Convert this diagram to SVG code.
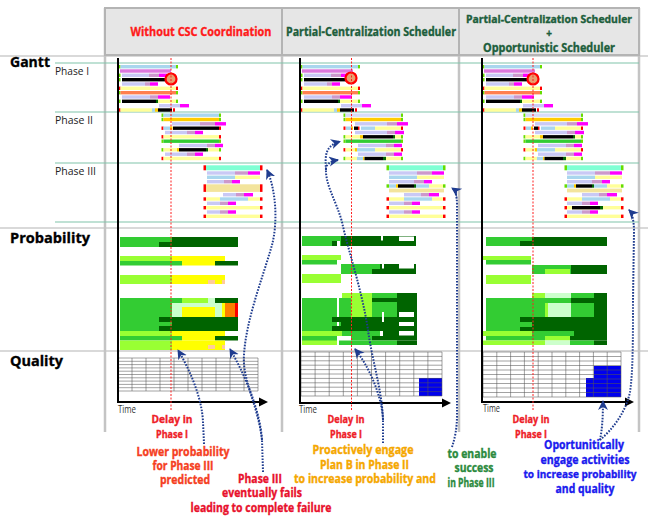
<svg xmlns="http://www.w3.org/2000/svg" width="648" height="519" viewBox="0 0 648 519">
<style>
.lb{fill:#a9d6ee}.lv{fill:#c9c9f5}.lv2{fill:#d8dcf8}.pl{fill:#cc99cc}.mg{fill:#ff00ff}.or{fill:#dd77dd}.ly{fill:#ffff99}.co{fill:#ff7f50}.gd{fill:#ffcc00}.bk{fill:#000}.dg{fill:#006600}.gn{fill:#33cc33}.gc{fill:#66dd00}.rc{fill:#ff0000}.aq{fill:#80ffd4}.kh{fill:#f3e49c}
.g{fill:#33cc33}.d{fill:#006400}.l{fill:#99ff33}.y{fill:#ffff00}.p{fill:#ccffcc}.pc{fill:#ffcc99}.o{fill:#ff8000}.r{fill:#ff0000}.w{fill:#fff}
.t{font-family:"Open Sans","Liberation Sans",sans-serif;font-weight:bold;stroke-width:0.35;paint-order:stroke}
.n{font-family:"Open Sans","Liberation Sans",sans-serif}
.cell{fill:#e6e6e6;stroke:#b4b4b4;stroke-width:2}
.col{stroke:#c4c4c4;stroke-width:2.5}
.sep{stroke:#cccccc;stroke-width:1.5}
.ph{stroke:#80c4aa;stroke-width:1.2}
.axis{stroke:#000;stroke-width:2;fill:none}
.delay{stroke:#ff2020;stroke-width:1;stroke-dasharray:2 1.5}
.grid{stroke:#555;stroke-width:0.55;fill:none}
.arr{stroke:#1f3c8f;stroke-width:2;stroke-dasharray:1.6 1.4;fill:none;marker-end:url(#ah)}
.ring{fill:#e8a070;stroke:#ff0000;stroke-width:2.2}
.blue{fill:#0000ee}
</style>
<defs>
<marker id="ah" markerWidth="12" markerHeight="12" refX="9" refY="5" orient="auto" markerUnits="userSpaceOnUse"><path d="M0,0 L10,5 L0,10 L3,5 Z" fill="#1f3c8f"/></marker>
<marker id="ta" markerWidth="10" markerHeight="10" refX="0" refY="5" orient="auto" markerUnits="userSpaceOnUse"><path d="M0,0.5 L9,5 L0,9.5 Z" fill="#000"/></marker>
<g id="p1">
<rect class="gc" x="-0.5" y="1" width="2" height="3.4"/><rect class="lb" x="1.5" y="1" width="55.5" height="3.4"/><rect class="gc" x="57" y="1" width="2" height="3.4"/>
<rect class="or" x="1" y="5.3" width="51" height="3.4"/>
<rect class="gc" x="-0.5" y="9.6" width="2" height="3.4"/><rect class="lv" x="3" y="9.6" width="27" height="3.4"/><rect class="pl" x="30" y="9.6" width="10" height="3.4"/><rect class="mg" x="40" y="9.6" width="8" height="3.4"/>
<rect class="gc" x="-0.5" y="14" width="2" height="3.4"/><rect class="bk" x="3" y="14" width="44" height="3.4"/><rect class="dg" x="47" y="14" width="2" height="3.4"/>
<rect class="lv" x="3" y="18.3" width="23" height="3.4"/><rect class="pl" x="26" y="18.3" width="5" height="3.4"/><rect class="mg" x="31" y="18.3" width="8" height="3.4"/>
<rect class="rc" x="-0.5" y="22.6" width="2" height="3.4"/><rect class="ly" x="1.5" y="22.6" width="55.5" height="3.4"/><rect class="rc" x="57" y="22.6" width="2" height="3.4"/>
<rect class="gc" x="-0.5" y="27" width="2" height="3.4"/><rect class="co" x="1.5" y="27" width="55.5" height="3.4"/><rect class="gc" x="57" y="27" width="2" height="3.4"/>
<rect class="lv" x="3" y="31.3" width="28" height="3.4"/><rect class="pl" x="31" y="31.3" width="8" height="3.4"/><rect class="mg" x="39" y="31.3" width="12" height="3.4"/>
<rect class="gc" x="-0.5" y="35.6" width="2" height="3.4"/><rect class="bk" x="3" y="35.6" width="34" height="3.4"/><rect class="dg" x="37" y="35.6" width="2" height="3.4"/><rect class="ly" x="39" y="35.6" width="18" height="3.4"/><rect class="gc" x="57" y="35.6" width="2" height="3.4"/>
<rect class="lv" x="40" y="40" width="21" height="3.4"/><rect class="mg" x="61" y="40" width="9" height="3.4"/>
<rect class="rc" x="-0.5" y="44.3" width="2" height="3.4"/><rect class="ly" x="1.5" y="44.3" width="31.5" height="3.4"/><rect class="lb" x="33" y="44.3" width="3" height="3.4"/><rect class="gd" x="36" y="44.3" width="3" height="3.4"/><rect class="bk" x="39" y="44.3" width="14" height="3.4"/><rect class="rc" x="54" y="44.3" width="2" height="3.4"/>
</g>
<g id="p2a">
<rect class="gc" x="-0.5" y="0.5" width="2" height="3.4"/><rect class="lb" x="1.5" y="0.5" width="55.5" height="3.4"/><rect class="gc" x="57" y="0.5" width="2" height="3.4"/>
<rect class="gc" x="-0.5" y="4.8" width="2" height="3.4"/><rect class="gd" x="1.5" y="4.8" width="55.5" height="3.4"/><rect class="gc" x="57" y="4.8" width="2" height="3.4"/>
<rect class="lv" x="10" y="9.1" width="28" height="3.4"/><rect class="pl" x="38" y="9.1" width="15" height="3.4"/><rect class="mg" x="53" y="9.1" width="11" height="3.4"/>
<rect class="rc" x="-0.5" y="13.5" width="2" height="3.4"/><rect class="lb" x="1.5" y="13.5" width="6.5" height="3.4"/><rect class="gd" x="8" y="13.5" width="2.5" height="3.4"/><rect class="bk" x="11" y="13.5" width="46" height="3.4"/><rect class="rc" x="57" y="13.5" width="2" height="3.4"/>
<rect class="lv" x="3" y="17.8" width="22" height="3.4"/><rect class="pl" x="25" y="17.8" width="8" height="3.4"/><rect class="mg" x="33" y="17.8" width="8" height="3.4"/>
<rect class="rc" x="-0.5" y="22.1" width="2" height="3.4"/><rect class="ly" x="1.5" y="22.1" width="55.5" height="3.4"/><rect class="rc" x="57" y="22.1" width="2" height="3.4"/>
<rect class="gc" x="-0.5" y="26.5" width="2" height="3.4"/><rect class="gn" x="1.5" y="26.5" width="55.5" height="3.4"/><rect class="gc" x="57" y="26.5" width="2" height="3.4"/>
<rect class="lv" x="17" y="30.8" width="28" height="3.4"/><rect class="pl" x="45" y="30.8" width="8" height="3.4"/><rect class="mg" x="53" y="30.8" width="8" height="3.4"/>
<rect class="gc" x="-0.5" y="35.1" width="2" height="3.4"/><rect class="ly" x="1.5" y="35.1" width="13.5" height="3.4"/><rect class="gd" x="15" y="35.1" width="2" height="3.4"/><rect class="bk" x="17" y="35.1" width="27" height="3.4"/><rect class="dg" x="44" y="35.1" width="2" height="3.4"/><rect class="ly" x="46" y="35.1" width="11" height="3.4"/><rect class="gc" x="57" y="35.1" width="2" height="3.4"/>
<rect class="lv" x="3" y="39.5" width="22" height="3.4"/><rect class="pl" x="25" y="39.5" width="8" height="3.4"/><rect class="mg" x="33" y="39.5" width="8" height="3.4"/>
<rect class="rc" x="-0.5" y="43.8" width="2" height="3.4"/><rect class="ly" x="1.5" y="43.8" width="55.5" height="3.4"/><rect class="rc" x="57" y="43.8" width="2" height="3.4"/>
</g>
<g id="p3a">
<rect class="rc" x="-0.5" y="2.3" width="2.5" height="5"/><rect class="aq" x="2" y="2.3" width="54" height="5"/><rect class="rc" x="56" y="2.3" width="2.5" height="5"/>
<rect class="lv" x="3" y="8.3" width="28" height="3.4"/><rect class="pl" x="31" y="8.3" width="13" height="3.4"/><rect class="mg" x="44" y="8.3" width="12" height="3.4"/>
<rect class="lb" x="3" y="12.6" width="28" height="3.4"/><rect class="ly" x="31" y="12.6" width="25" height="3.4"/>
<rect class="lv" x="3" y="17" width="17" height="3.4"/><rect class="pl" x="20" y="17" width="8" height="3.4"/><rect class="mg" x="28" y="17" width="8" height="3.4"/>
<rect class="rc" x="-0.5" y="21.3" width="2.5" height="7.6"/><rect class="kh" x="2" y="21.3" width="54" height="7.6"/><rect class="rc" x="56" y="21.3" width="2.5" height="7.6"/>
<rect class="lv" x="19" y="30" width="13" height="3.4"/><rect class="pl" x="32" y="30" width="8" height="3.4"/><rect class="mg" x="40" y="30" width="9" height="3.4"/>
<rect class="rc" x="-0.5" y="34.3" width="2.5" height="3.4"/><rect class="ly" x="2" y="34.3" width="14" height="3.4"/><rect class="lb" x="16" y="34.3" width="28" height="3.4"/><rect class="ly" x="44" y="34.3" width="12" height="3.4"/><rect class="rc" x="56" y="34.3" width="2.5" height="3.4"/>
<rect class="lv" x="3" y="38.6" width="13" height="3.4"/><rect class="pl" x="16" y="38.6" width="8" height="3.4"/><rect class="mg" x="24" y="38.6" width="8" height="3.4"/>
<rect class="rc" x="-0.5" y="43" width="2.5" height="3.4"/><rect class="ly" x="2" y="43" width="54" height="3.4"/><rect class="rc" x="56" y="43" width="2.5" height="3.4"/>
<rect class="lv" x="3" y="47.3" width="13" height="3.4"/><rect class="pl" x="16" y="47.3" width="8" height="3.4"/><rect class="mg" x="24" y="47.3" width="8" height="3.4"/>
<rect class="rc" x="-0.5" y="51.6" width="2.5" height="3.4"/><rect class="ly" x="2" y="51.6" width="54" height="3.4"/><rect class="rc" x="56" y="51.6" width="2.5" height="3.4"/>
</g>
<g id="p2b">
<rect class="gc" x="-0.5" y="0.5" width="2" height="3.4"/><rect class="lv2" x="1.5" y="0.5" width="55.5" height="3.4"/><rect class="gc" x="57" y="0.5" width="2" height="3.4"/>
<rect class="gc" x="-0.5" y="4.8" width="2" height="3.4"/><rect class="gd" x="1.5" y="4.8" width="55.5" height="3.4"/><rect class="gc" x="57" y="4.8" width="2" height="3.4"/>
<rect class="lv" x="11" y="9.1" width="32" height="3.4"/><rect class="pl" x="43" y="9.1" width="10" height="3.4"/><rect class="mg" x="53" y="9.1" width="11" height="3.4"/>
<rect class="rc" x="-0.5" y="13.5" width="2" height="3.4"/><rect class="lb" x="2" y="13.5" width="5" height="3.4"/><rect class="gd" x="7" y="13.5" width="2" height="3.4"/><rect class="bk" x="10" y="13.5" width="4" height="3.4"/><rect class="rc" x="14" y="13.5" width="1.5" height="3.4"/><rect class="lb" x="17" y="13.5" width="14" height="3.4"/><rect class="ly" x="31" y="13.5" width="26" height="3.4"/><rect class="rc" x="57" y="13.5" width="2" height="3.4"/>
<rect class="lv" x="11" y="17.8" width="32" height="3.4"/><rect class="pl" x="43" y="17.8" width="8" height="3.4"/><rect class="mg" x="51" y="17.8" width="9" height="3.4"/>
<rect class="gc" x="-0.5" y="22.1" width="2" height="3.4"/><rect class="ly" x="1.5" y="22.1" width="14.5" height="3.4"/><rect class="gd" x="16" y="22.1" width="3" height="3.4"/><rect class="bk" x="19" y="22.1" width="30" height="3.4"/><rect class="dg" x="49" y="22.1" width="2" height="3.4"/><rect class="ly" x="51" y="22.1" width="6" height="3.4"/><rect class="gc" x="57" y="22.1" width="2" height="3.4"/>
<rect class="gc" x="-0.5" y="26.5" width="2" height="3.4"/><rect class="gn" x="1.5" y="26.5" width="55.5" height="3.4"/><rect class="gc" x="57" y="26.5" width="2" height="3.4"/>
<rect class="lv" x="14" y="30.8" width="28" height="3.4"/><rect class="pl" x="42" y="30.8" width="8" height="3.4"/><rect class="mg" x="50" y="30.8" width="8" height="3.4"/>
<rect class="rc" x="-0.5" y="35.1" width="2" height="3.4"/><rect class="ly" x="1.5" y="35.1" width="9.5" height="3.4"/><rect class="gd" x="11" y="35.1" width="2" height="3.4"/><rect class="lb" x="13" y="35.1" width="18" height="3.4"/><rect class="ly" x="31" y="35.1" width="26" height="3.4"/><rect class="rc" x="57" y="35.1" width="2" height="3.4"/>
<rect class="lv" x="14" y="39.5" width="28" height="3.4"/><rect class="pl" x="42" y="39.5" width="8" height="3.4"/><rect class="mg" x="50" y="39.5" width="8" height="3.4"/>
<rect class="gc" x="-0.5" y="43.8" width="2" height="3.4"/><rect class="ly" x="1.5" y="43.8" width="11.5" height="3.4"/><rect class="lb" x="13" y="43.8" width="6" height="3.4"/><rect class="gd" x="19" y="43.8" width="1.5" height="3.4"/><rect class="bk" x="20.5" y="43.8" width="18.5" height="3.4"/><rect class="dg" x="39" y="43.8" width="3" height="3.4"/><rect class="ly" x="42" y="43.8" width="15" height="3.4"/><rect class="gc" x="57" y="43.8" width="2" height="3.4"/>
</g>
<g id="p3b">
<rect class="gc" x="-0.5" y="2.3" width="2.5" height="5"/><rect class="aq" x="2" y="2.3" width="54" height="5"/><rect class="gc" x="56" y="2.3" width="2.5" height="5"/>
<rect class="lv" x="2" y="8.3" width="28" height="3.4"/><rect class="pl" x="30" y="8.3" width="15" height="3.4"/><rect class="mg" x="45" y="8.3" width="12" height="3.4"/>
<rect class="lb" x="2" y="12.6" width="28" height="3.4"/><rect class="ly" x="30" y="12.6" width="27" height="3.4"/>
<rect class="lv" x="2" y="17" width="25" height="3.4"/><rect class="pl" x="27" y="17" width="10" height="3.4"/><rect class="mg" x="37" y="17" width="8" height="3.4"/>
<rect class="gc" x="-0.5" y="21.3" width="2.5" height="3.4"/><rect class="lb" x="2" y="21.3" width="7" height="3.4"/><rect class="gd" x="9" y="21.3" width="2" height="3.4"/><rect class="bk" x="11" y="21.3" width="16" height="3.4"/><rect class="dg" x="27" y="21.3" width="2" height="3.4"/><rect class="lb" x="29" y="21.3" width="13" height="3.4"/><rect class="ly" x="42" y="21.3" width="14" height="3.4"/><rect class="gc" x="56" y="21.3" width="2.5" height="3.4"/>
<rect class="kh" x="2" y="25.6" width="55" height="3.8"/>
<rect class="lv" x="17" y="30" width="17" height="3.4"/><rect class="pl" x="34" y="30" width="8" height="3.4"/><rect class="mg" x="42" y="30" width="10" height="3.4"/>
<rect class="rc" x="-0.5" y="34.3" width="2.5" height="3.4"/><rect class="ly" x="2" y="34.3" width="15" height="3.4"/><rect class="lb" x="17" y="34.3" width="28" height="3.4"/><rect class="ly" x="45" y="34.3" width="11" height="3.4"/><rect class="rc" x="56" y="34.3" width="2.5" height="3.4"/>
<rect class="lv" x="2" y="38.6" width="15" height="3.4"/><rect class="pl" x="17" y="38.6" width="8" height="3.4"/><rect class="mg" x="25" y="38.6" width="8" height="3.4"/>
<rect class="rc" x="-0.5" y="43" width="2.5" height="3.4"/><rect class="ly" x="2" y="43" width="54" height="3.4"/><rect class="rc" x="56" y="43" width="2.5" height="3.4"/>
<rect class="lv" x="2" y="47.3" width="15" height="3.4"/><rect class="pl" x="17" y="47.3" width="8" height="3.4"/><rect class="mg" x="25" y="47.3" width="8" height="3.4"/>
<rect class="rc" x="-0.5" y="51.6" width="2.5" height="3.4"/><rect class="ly" x="2" y="51.6" width="54" height="3.4"/><rect class="rc" x="56" y="51.6" width="2.5" height="3.4"/>
</g>
</defs>
<rect width="648" height="519" fill="#fff"/>

<g id="frame">
<line class="sep" x1="0" y1="56" x2="648" y2="56"/>
<line class="sep" x1="0" y1="228" x2="648" y2="228"/>
<line class="sep" x1="0" y1="351" x2="648" y2="351"/>
<line class="col" x1="105" y1="8" x2="105" y2="432"/>
<line class="col" x1="282" y1="8" x2="282" y2="432"/>
<line class="col" x1="459" y1="8" x2="459" y2="432"/>
<line class="col" x1="639" y1="8" x2="639" y2="432"/>
<line class="ph" x1="55" y1="63" x2="639" y2="63"/>
<line class="ph" x1="55" y1="112" x2="639" y2="112"/>
<line class="ph" x1="55" y1="163" x2="639" y2="163"/>
<line class="ph" x1="55" y1="222" x2="639" y2="222"/>
</g>

<g id="header">
<rect class="cell" x="105" y="8" width="177" height="47"/>
<rect class="cell" x="282" y="8" width="177" height="47"/>
<rect class="cell" x="459" y="8" width="180" height="47"/>
<text class="t" x="201" y="35.5" font-size="12.5" fill="#ff1a1a" stroke="#ff1a1a" text-anchor="middle" textLength="141" lengthAdjust="spacingAndGlyphs">Without CSC Coordination</text>
<text class="t" x="371" y="35.5" font-size="12.5" fill="#1d5e3c" stroke="#1d5e3c" text-anchor="middle" textLength="170" lengthAdjust="spacingAndGlyphs">Partial-Centralization Scheduler</text>
<text class="t" x="549" y="22.5" font-size="10.2" fill="#1d5e3c" stroke="#1d5e3c" text-anchor="middle" textLength="166" lengthAdjust="spacingAndGlyphs">Partial-Centralization Scheduler</text>
<text class="t" x="549" y="37" font-size="10" fill="#1d5e3c" stroke="#1d5e3c" text-anchor="middle">+</text>
<text class="t" x="549" y="51.5" font-size="11.5" fill="#1d5e3c" stroke="#1d5e3c" text-anchor="middle" textLength="132" lengthAdjust="spacingAndGlyphs">Opportunistic Scheduler</text>
</g>

<g id="row-labels">
<text class="t" x="10" y="67" font-size="15" fill="#000" stroke="#000" textLength="40" lengthAdjust="spacingAndGlyphs">Gantt</text>
<text class="t" x="10" y="243" font-size="15" fill="#000" stroke="#000" textLength="80" lengthAdjust="spacingAndGlyphs">Probability</text>
<text class="t" x="10" y="366" font-size="15" fill="#000" stroke="#000" textLength="53" lengthAdjust="spacingAndGlyphs">Quality</text>
<text class="n" x="55" y="75" font-size="11" fill="#222" textLength="34" lengthAdjust="spacingAndGlyphs">Phase I</text>
<text class="n" x="55" y="124" font-size="11" fill="#222" textLength="38" lengthAdjust="spacingAndGlyphs">Phase II</text>
<text class="n" x="55" y="175" font-size="11" fill="#222" textLength="41" lengthAdjust="spacingAndGlyphs">Phase III</text>
</g>

<g id="col1">
<use href="#p1" x="119" y="64"/>
<use href="#p2a" x="162" y="113"/>
<use href="#p3a" x="204" y="163"/>
<circle class="ring" cx="171" cy="79" r="5.5"/>
<rect class="g" x="120" y="237" width="52" height="10"/><rect class="d" x="172" y="237" width="66" height="10"/><rect class="d" x="159" y="242" width="13" height="5"/>
<rect class="l" x="120" y="256" width="52" height="5"/><rect class="y" x="172" y="256" width="53" height="5"/>
<rect class="g" x="120" y="261" width="62" height="4.5"/><rect class="y" x="182" y="261" width="33" height="4.5"/><rect class="d" x="215" y="261" width="23" height="4.5"/>
<rect class="l" x="120" y="275" width="52" height="9"/><rect class="y" x="172" y="275" width="53" height="9"/><rect class="pc" x="208" y="280" width="7" height="4"/><rect class="pc" x="222" y="280" width="3" height="4"/>
<rect class="g" x="120" y="298" width="52" height="33"/>
<rect class="g" x="172" y="298" width="10" height="5"/><rect class="l" x="182" y="298" width="26" height="5"/><rect class="p" x="208" y="298" width="7" height="5"/><rect class="d" x="215" y="298" width="23" height="5"/>
<rect class="p" x="172" y="303" width="50" height="14"/><rect class="y" x="182" y="307" width="33" height="10"/><rect class="y" x="222" y="303" width="3" height="14"/><rect class="o" x="225" y="303" width="10" height="14"/><rect class="r" x="235" y="303" width="3" height="14"/>
<rect class="d" x="172" y="317" width="66" height="14"/><rect class="d" x="159" y="317" width="13" height="5"/><rect class="d" x="159" y="326" width="13" height="5"/>
<rect class="l" x="120" y="331" width="52" height="5"/><rect class="y" x="172" y="331" width="53" height="5"/>
<rect class="g" x="120" y="336" width="62" height="4.5"/><rect class="y" x="182" y="336" width="33" height="4.5"/><rect class="d" x="215" y="336" width="23" height="4.5"/>
<rect class="l" x="120" y="340.5" width="52" height="9.5"/><rect class="y" x="172" y="340.5" width="53" height="9.5"/><rect class="pc" x="208" y="345" width="7" height="4"/><rect class="pc" x="222" y="345" width="3" height="4"/>
<rect x="118" y="358" width="140" height="33" fill="#fff"/>
<path class="grid" d="M118,358V391M132,358V391M146,358V391M160,358V391M174,358V391M188,358V391M202,358V391M216,358V391M230,358V391M244,358V391M258,358V391M118,358H258M118,361.3H258M118,364.6H258M118,367.9H258M118,371.2H258M118,374.5H258M118,377.8H258M118,381.1H258M118,384.4H258M118,387.7H258M118,391H258"/>
<path class="axis" d="M118,58V402H259" marker-end="url(#ta)"/>
<line class="delay" x1="171" y1="58" x2="171" y2="410"/>
<text class="n" x="118" y="413" font-size="10" fill="#333" textLength="18" lengthAdjust="spacingAndGlyphs">Time</text>
</g>

<g id="col2">
<use href="#p1" x="301" y="64"/>
<use href="#p2b" x="344" y="113"/>
<use href="#p3b" x="387" y="163"/>
<circle class="ring" cx="351" cy="78" r="5.5"/>
<rect class="g" x="302" y="236" width="39" height="10"/><rect class="d" x="341" y="236" width="75" height="10"/><rect class="w" x="381" y="236" width="2" height="4.5"/><rect class="w" x="399" y="236.5" width="15" height="4.5"/><rect class="d" x="332" y="241" width="5" height="5"/><rect class="w" x="337" y="241" width="3" height="5"/>
<rect class="l" x="302" y="255" width="39" height="5"/><rect class="g" x="302" y="260" width="35" height="4.5"/>
<rect class="g" x="341" y="264" width="39" height="10"/><rect class="d" x="380" y="264" width="36" height="10"/><rect class="d" x="372" y="269" width="8" height="5"/><rect class="w" x="382" y="264" width="2" height="4.5"/><rect class="w" x="399" y="264" width="15" height="4.5"/>
<rect class="l" x="302" y="274" width="39" height="9"/>
<rect class="l" x="342" y="293" width="30" height="5"/><rect class="g" x="372" y="293" width="25" height="5"/><rect class="d" x="397" y="293" width="20" height="5"/>
<rect class="g" x="302" y="298" width="35" height="47"/>
<rect class="g" x="339" y="298" width="12" height="38"/><rect class="l" x="351" y="298" width="21" height="19"/>
<rect class="d" x="372" y="298" width="45" height="4"/><rect class="g" x="372" y="302" width="25" height="15"/><rect class="d" x="397" y="302" width="20" height="15"/>
<rect class="w" x="382" y="312" width="2" height="5"/><rect class="w" x="399" y="312" width="15" height="5"/>
<rect class="d" x="332" y="317" width="85" height="5"/><rect class="d" x="341" y="322" width="76" height="4"/><rect class="d" x="332" y="326" width="85" height="5"/>
<rect class="w" x="382" y="317" width="2" height="5"/><rect class="w" x="399" y="322" width="15" height="4"/>
<rect class="l" x="302" y="331" width="40" height="5"/><rect class="g" x="342" y="331" width="38" height="5"/><rect class="d" x="383" y="331" width="34" height="5"/><rect class="w" x="399" y="331" width="15" height="4.5"/>
<rect class="g" x="351" y="336" width="21" height="4.5"/><rect class="d" x="372" y="336" width="45" height="4.5"/>
<rect class="l" x="302" y="340.5" width="35" height="4.5"/><rect class="g" x="339" y="340.5" width="58" height="4.5"/><rect class="d" x="397" y="340.5" width="20" height="4.5"/>
<rect x="301" y="352" width="141" height="44" fill="#fff"/>
<rect class="blue" x="419" y="378" width="23" height="18"/>
<path class="grid" d="M301,352V396M315.1,352V396M329.2,352V396M343.3,352V396M357.4,352V396M371.5,352V396M385.6,352V396M399.7,352V396M413.8,352V396M427.9,352V396M442,352V396M301,352H442M301,356.4H442M301,360.8H442M301,365.2H442M301,369.6H442M301,374H442M301,378.4H442M301,382.8H442M301,387.2H442M301,391.6H442M301,396H442"/>
<path class="axis" d="M300,58V403H442" marker-end="url(#ta)"/>
<line class="delay" x1="351.5" y1="58" x2="351.5" y2="410"/>
<text class="n" x="299" y="413" font-size="10" fill="#333" textLength="18" lengthAdjust="spacingAndGlyphs">Time</text>
</g>

<g id="col3">
<use href="#p1" x="483" y="64"/>
<use href="#p2b" x="524" y="113"/>
<use href="#p3b" x="565" y="163"/>
<rect class="bk" x="572" y="206" width="28" height="3.4"/><rect class="dg" x="600" y="206" width="3" height="3.4"/>
<circle class="ring" cx="533" cy="79" r="5.5"/>
<rect class="g" x="486" y="237" width="46" height="9"/><rect class="d" x="532" y="237" width="75" height="9"/><rect class="d" x="520" y="241" width="12" height="5"/>
<rect class="l" x="483" y="256" width="48" height="4"/><rect class="g" x="486" y="260" width="45" height="4.5"/>
<rect class="g" x="532" y="265" width="42" height="9"/><rect class="l" x="545" y="269" width="25" height="5"/><rect class="d" x="571" y="265" width="36" height="9"/>
<rect class="l" x="486" y="275" width="45" height="9"/>
<rect class="l" x="532" y="293" width="13" height="5"/><rect class="p" x="545" y="293" width="26" height="5"/><rect class="g" x="571" y="293" width="23" height="5"/><rect class="d" x="594" y="293" width="13" height="5"/>
<rect class="g" x="486" y="298" width="46" height="33"/>
<rect class="g" x="532" y="298" width="39" height="19"/><rect class="d" x="571" y="298" width="36" height="5"/>
<rect class="l" x="545" y="303" width="3" height="14"/><rect class="p" x="548" y="303" width="23" height="14"/><rect class="g" x="571" y="303" width="23" height="14"/><rect class="d" x="594" y="303" width="13" height="14"/>
<rect class="d" x="520" y="317" width="87" height="5"/><rect class="d" x="532" y="322" width="75" height="5"/><rect class="d" x="520" y="327" width="87" height="4"/>
<rect class="l" x="483" y="331" width="49" height="5"/><rect class="g" x="532" y="331" width="42" height="5"/><rect class="d" x="574" y="331" width="33" height="5"/>
<rect class="g" x="486" y="336" width="59" height="4.5"/><rect class="l" x="545" y="336" width="25" height="4.5"/><rect class="d" x="570" y="336" width="37" height="4.5"/>
<rect class="l" x="483" y="340.5" width="62" height="4.5"/><rect class="p" x="545" y="340.5" width="25" height="4.5"/><rect class="g" x="570" y="340.5" width="24" height="4.5"/><rect class="d" x="594" y="340.5" width="13" height="4.5"/>
<rect x="483" y="352" width="138" height="45" fill="#fff"/>
<rect class="blue" x="594" y="366" width="27" height="31"/><rect class="blue" x="586" y="378" width="8" height="19"/>
<path class="grid" d="M483,352V397M496.8,352V397M510.6,352V397M524.4,352V397M538.2,352V397M552,352V397M565.8,352V397M579.6,352V397M593.4,352V397M607.2,352V397M621,352V397M483,352H621M483,356.5H621M483,361H621M483,365.5H621M483,370H621M483,374.5H621M483,379H621M483,383.5H621M483,388H621M483,392.5H621M483,397H621"/>
<path class="axis" d="M482,58V402H625" marker-end="url(#ta)"/>
<line class="delay" x1="533" y1="58" x2="533" y2="410"/>
<text class="n" x="483" y="412" font-size="10" fill="#333" textLength="17" lengthAdjust="spacingAndGlyphs">Time</text>
</g>

<g id="connectors">
<path class="arr" d="M204,444 L203,422 C202,398 190,370 178,350"/>
<path class="arr" d="M263,472 L262,440 C260,410 245,375 230,349"/>
<path class="arr" d="M262,440 C258,405 242,380 244,355 C246,320 262,280 272,245 C278,222 276,190 267,170"/>
<path class="arr" d="M383,443 L383,420 C382,395 368,365 355,349"/>
<path class="arr" d="M383,420 C382,390 372,360 368,330 C362,290 348,250 342,222 C336,200 325,185 326,168 C327,163 332,161 338,160"/>
<path class="arr" d="M326,170 C325,155 325,146 340,141.5"/>
<path class="arr" d="M452,447 C455,438 457,428 457,415 L457,205 C457,195 455,190 452,188"/>
<path class="arr" d="M600,440 C602,430 603,418 603,401"/>
<path class="arr" d="M600,440 C612,430 626,412 630,392 C633,372 633,340 633,300 L634,232 C634,220 632,213 629,210"/>
</g>

<g id="annotations">
<g fill="#ee2028" stroke="#ee2028" font-size="10.5" text-anchor="middle">
<text class="t" x="172" y="423" textLength="41" lengthAdjust="spacingAndGlyphs">Delay in</text>
<text class="t" x="172" y="437.5" textLength="32" lengthAdjust="spacingAndGlyphs">Phase I</text>
<text class="t" x="346" y="423" textLength="37" lengthAdjust="spacingAndGlyphs">Delay in</text>
<text class="t" x="346" y="437.5" textLength="32" lengthAdjust="spacingAndGlyphs">Phase I</text>
<text class="t" x="531" y="423" textLength="37" lengthAdjust="spacingAndGlyphs">Delay in</text>
<text class="t" x="531" y="437.5" textLength="32" lengthAdjust="spacingAndGlyphs">Phase I</text>
</g>
<g fill="#f5401f" stroke="#f5401f" font-size="11.5" text-anchor="middle">
<text class="t" x="183" y="456" textLength="93" lengthAdjust="spacingAndGlyphs">Lower probability</text>
<text class="t" x="183" y="470" textLength="61" lengthAdjust="spacingAndGlyphs">for Phase III</text>
<text class="t" x="185" y="484" textLength="50" lengthAdjust="spacingAndGlyphs">predicted</text>
</g>
<g fill="#e8112d" stroke="#e8112d" font-size="11.5" text-anchor="middle">
<text class="t" x="260" y="483" textLength="44" lengthAdjust="spacingAndGlyphs">Phase III</text>
<text class="t" x="262" y="497" textLength="80" lengthAdjust="spacingAndGlyphs">eventually fails</text>
<text class="t" x="261" y="512" textLength="141" lengthAdjust="spacingAndGlyphs">leading to complete failure</text>
</g>
<g fill="#f5a700" stroke="#f5a700" font-size="11.5" text-anchor="middle">
<text class="t" x="363" y="454" textLength="101" lengthAdjust="spacingAndGlyphs">Proactively engage</text>
<text class="t" x="364.5" y="468.5" textLength="89" lengthAdjust="spacingAndGlyphs">Plan B in Phase II</text>
<text class="t" x="365" y="483" textLength="142" lengthAdjust="spacingAndGlyphs">to increase probability and</text>
</g>
<g fill="#2b8a3e" stroke="#2b8a3e" font-size="11.5" text-anchor="middle">
<text class="t" x="472" y="458" textLength="49" lengthAdjust="spacingAndGlyphs">to enable</text>
<text class="t" x="474" y="472" textLength="39" lengthAdjust="spacingAndGlyphs">success</text>
<text class="t" x="471" y="487" textLength="47" lengthAdjust="spacingAndGlyphs">in Phase III</text>
</g>
<g fill="#1a1aee" stroke="#1a1aee" font-size="11.5" text-anchor="middle">
<text class="t" x="584" y="449" textLength="80" lengthAdjust="spacingAndGlyphs">Oportunitically</text>
<text class="t" x="585" y="464" textLength="89" lengthAdjust="spacingAndGlyphs">engage activities</text>
<text class="t" x="580" y="478" font-size="10.5" textLength="113" lengthAdjust="spacingAndGlyphs">to increase probability</text>
<text class="t" x="585" y="493" textLength="59" lengthAdjust="spacingAndGlyphs">and quality</text>
</g>
</g>
</svg>
